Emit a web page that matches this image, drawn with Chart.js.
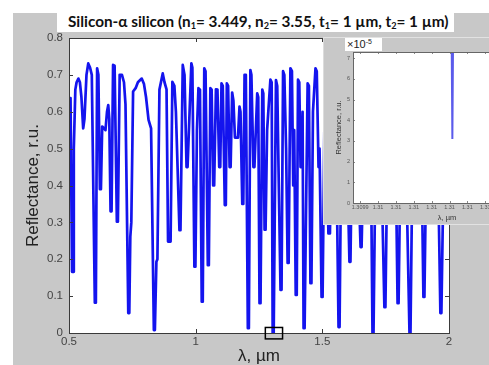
<!DOCTYPE html>
<html>
<head>
<meta charset="utf-8">
<script src="https://cdn.jsdelivr.net/npm/chart.js@4.4.0/dist/chart.umd.min.js"></script>
<style>
  html, body { margin: 0; padding: 0; background: #fff; width: 489px; height: 365px; overflow: hidden; }
  #fig { position: absolute; left: 13px; top: 13px; width: 476px; height: 352px; background: #c8c8c8; }
  #main { position: absolute; left: 13px; top: 13px; }
  #titleBox { position: absolute; left: 57px; top: 0; width: 397px; height: 32px; background: #fff; }
  #title { position: absolute; left: 11px; top: 12px; white-space: nowrap; font-family: Lato, "Open Sans", sans-serif;
           font-weight: bold; font-size: 15.3px; line-height: 18px; color: #111; }
  #title sub { font-size: 0.6em; vertical-align: -0.2em; line-height: 0; }
  #insetPanel { position: absolute; left: 323px; top: 37px; width: 240px; height: 188px; background: #c8c8c8;
                border-top: 1px solid #e2e2e2; border-bottom: 1px solid #e2e2e2; border-left: 1px solid #dcdcdc; box-sizing: border-box; }
  #inset { position: absolute; left: 323px; top: 37px; }
  #expo { position: absolute; left: 345px; top: 38px; width: 37px; height: 13px; background: #fff;
          font-family: "Liberation Sans", Arial, sans-serif; font-size: 11px; line-height: 13px; color: #222; padding-left: 2px; box-sizing: border-box; }
  #expo sup { font-size: 7px; vertical-align: 4px; line-height: 0; }
</style>
</head>
<body>
<div id="fig"></div>
<canvas id="main" width="476" height="352"></canvas>
<div id="titleBox"><div id="title">Silicon-α silicon (n<sub>1</sub>= 3.449, n<sub>2</sub>= 3.55, t<sub>1</sub>= 1 µm, t<sub>2</sub>= 1 µm)</div></div>
<div id="insetPanel"></div>
<canvas id="inset" width="240" height="188"></canvas>
<div id="expo">×10<sup>-5</sup></div>
<script>
// Kurve: Wellenlaenge (µm) und Reflexion (r.u.)
const wavelength = [
  0.500, 0.502, 0.506, 0.512, 0.516, 0.519, 0.525, 0.530, 0.537, 0.543,
  0.549, 0.556, 0.561, 0.569, 0.576, 0.583, 0.590, 0.602, 0.606, 0.611,
  0.616, 0.622, 0.626, 0.631, 0.644, 0.650, 0.655, 0.659, 0.664, 0.668,
  0.674, 0.680, 0.689, 0.693, 0.700, 0.709, 0.717, 0.723, 0.734, 0.738,
  0.742, 0.746, 0.753, 0.763, 0.772, 0.787, 0.796, 0.804, 0.814, 0.824,
  0.835, 0.839, 0.845, 0.849, 0.857, 0.870, 0.877, 0.885, 0.891, 0.901,
  0.908, 0.916, 0.922, 0.936, 0.940, 0.949, 0.956, 0.964, 0.968, 0.976,
  0.983, 0.987, 0.995, 0.999, 1.005, 1.011, 1.017, 1.024, 1.028, 1.034,
  1.039, 1.048, 1.052, 1.058, 1.063, 1.069, 1.073, 1.080, 1.086, 1.093,
  1.097, 1.102, 1.107, 1.115, 1.119, 1.123, 1.128, 1.134, 1.138, 1.144,
  1.149, 1.155, 1.167, 1.173, 1.177, 1.184, 1.188, 1.193, 1.198, 1.206,
  1.210, 1.216, 1.220, 1.228, 1.232, 1.243, 1.247, 1.252, 1.256, 1.263,
  1.267, 1.272, 1.276, 1.282, 1.295, 1.300, 1.304, 1.308, 1.317, 1.322,
  1.327, 1.335, 1.339, 1.345, 1.350, 1.357, 1.363, 1.367, 1.374, 1.380,
  1.385, 1.389, 1.395, 1.399, 1.404, 1.409, 1.414, 1.418, 1.422, 1.426,
  1.430, 1.442, 1.447, 1.453, 1.457, 1.463, 1.473, 1.478, 1.485, 1.489,
  1.497, 1.501, 1.509, 1.516, 1.524, 1.530, 1.538, 1.546, 1.552, 1.556,
  1.564, 1.568, 1.576, 1.586, 1.593, 1.597, 1.607, 1.611, 1.619, 1.633,
  1.651, 1.655, 1.666, 1.680, 1.688, 1.692, 1.698, 1.702, 1.712, 1.728,
  1.745, 1.749, 1.759, 1.775, 1.787, 1.791, 1.797, 1.801, 1.811, 1.826,
  1.844, 1.848, 1.858, 1.878, 1.889, 1.893, 1.899, 1.903, 1.913, 1.937,
  1.955, 1.959, 1.966, 1.970, 1.980, 1.992, 2.000
];
const reflectance = [
  0.45, 0.637, 0.637, 0.166, 0.166, 0.50, 0.66, 0.68, 0.69, 0.68,
  0.64, 0.555, 0.58, 0.70, 0.731, 0.72, 0.70, 0.082, 0.082, 0.718,
  0.70, 0.39, 0.39, 0.56, 0.55, 0.60, 0.618, 0.58, 0.33, 0.33,
  0.727, 0.725, 0.302, 0.302, 0.70, 0.70, 0.68, 0.62, 0.054, 0.054,
  0.261, 0.30, 0.655, 0.664, 0.68, 0.69, 0.675, 0.64, 0.578, 0.555,
  0.008, 0.008, 0.193, 0.20, 0.66, 0.704, 0.68, 0.661, 0.248, 0.248,
  0.681, 0.67, 0.60, 0.279, 0.279, 0.727, 0.70, 0.45, 0.45, 0.60,
  0.731, 0.72, 0.18, 0.18, 0.55, 0.664, 0.66, 0.085, 0.085, 0.718,
  0.71, 0.184, 0.184, 0.664, 0.66, 0.40, 0.40, 0.661, 0.66, 0.45,
  0.45, 0.677, 0.67, 0.347, 0.347, 0.677, 0.67, 0.45, 0.45, 0.652,
  0.63, 0.53, 0.53, 0.614, 0.60, 0.35, 0.35, 0.70, 0.70, 0.013,
  0.013, 0.713, 0.70, 0.45, 0.45, 0.65, 0.64, 0.081, 0.081, 0.66,
  0.65, 0.28, 0.28, 0.55, 0.687, 0.68, 0.0, 0.0, 0.686, 0.67,
  0.45, 0.117, 0.117, 0.71, 0.70, 0.50, 0.19, 0.19, 0.718, 0.71,
  0.40, 0.55, 0.103, 0.103, 0.687, 0.68, 0.45, 0.45, 0.60, 0.013,
  0.013, 0.677, 0.67, 0.135, 0.135, 0.60, 0.718, 0.71, 0.45, 0.50,
  0.098, 0.098, 0.62, 0.60, 0.27, 0.27, 0.60, 0.60, 0.40, 0.45,
  0.016, 0.016, 0.60, 0.62, 0.45, 0.50, 0.193, 0.193, 0.60, 0.62,
  0.233, 0.233, 0.60, 0.62, 0.40, 0.45, 0.0, 0.0, 0.60, 0.62,
  0.07, 0.07, 0.60, 0.62, 0.35, 0.40, 0.081, 0.081, 0.60, 0.62,
  0.0, 0.0, 0.60, 0.62, 0.35, 0.40, 0.098, 0.098, 0.60, 0.62,
  0.30, 0.35, 0.054, 0.054, 0.50, 0.55, 0.45
];
const xTicks = [0.5, 1, 1.5, 2];
const yTicks = [0, 0.1, 0.2, 0.3, 0.4, 0.5, 0.6, 0.7, 0.8];
// markiertes Fenster um 1.31 µm (in Datenkoordinaten)
const zoomWindow = { x0: 1.275, x1: 1.343, y0: -0.016, y1: 0.015 };

// Ausschnitt (Inset)
const insetWavelength = [1.310156, 1.310158, 1.310160];
const insetReflectance = [8.0e-5, 3.1e-5, 8.0e-5];
const insetXTicks = [1.3099, 1.30995, 1.3100, 1.31005, 1.3101, 1.31015, 1.3102, 1.31025, 1.3103, 1.31035, 1.3104];
const insetXLabels = ['1.3099', '1.31', '1.31', '1.31', '1.31', '1.31', '1.31', '1.31', '1.31', '1.31', '1.31'];
const insetYTicks = [0, 1e-5, 2e-5, 3e-5, 4e-5, 5e-5, 6e-5, 7e-5];

/**
 * MATLAB-artiger Rahmen: weisser Plotbereich, Box und nach innen zeigende Ticks
 */
const matlabFrame = {
  id: 'matlabFrame',
  beforeDatasetsDraw(chart) {
    const a = chart.chartArea;
    chart.ctx.save();
    chart.ctx.fillStyle = '#fff';
    chart.ctx.fillRect(a.left, a.top, a.right - a.left, a.bottom - a.top);
    chart.ctx.restore();
  },
  afterDatasetsDraw(chart, args, opts) {
    const { ctx, chartArea: a, scales: { x, y } } = chart;
    ctx.save();
    ctx.strokeStyle = opts.tickColor;
    ctx.lineWidth = 1;
    ctx.beginPath();
    x.ticks.forEach(t => {
      const px = Math.round(x.getPixelForValue(t.value)) + 0.5;
      ctx.moveTo(px, a.bottom); ctx.lineTo(px, a.bottom - opts.len);
      ctx.moveTo(px, a.top); ctx.lineTo(px, a.top + opts.len);
    });
    y.ticks.forEach(t => {
      const py = Math.round(y.getPixelForValue(t.value)) + 0.5;
      ctx.moveTo(a.left, py); ctx.lineTo(a.left + opts.len, py);
      ctx.moveTo(a.right, py); ctx.lineTo(a.right - opts.len, py);
    });
    ctx.stroke();
    ctx.strokeStyle = opts.color;
    ctx.strokeRect(Math.round(a.left) + 0.5, Math.round(a.top) + 0.5, Math.round(a.right - a.left), Math.round(a.bottom - a.top));
    if (opts.box) {
      const bx0 = x.getPixelForValue(opts.box.x0), bx1 = x.getPixelForValue(opts.box.x1);
      const by0 = y.getPixelForValue(opts.box.y0), by1 = y.getPixelForValue(opts.box.y1);
      ctx.strokeStyle = '#000';
      ctx.lineWidth = 1.5;
      ctx.strokeRect(bx0, by1, bx1 - bx0, by0 - by1);
    }
    ctx.restore();
  }
};

const axisFont = { family: '"Liberation Sans", Arial, sans-serif', size: 11.5 };

new Chart(document.getElementById('main'), {
  type: 'line',
  data: {
    datasets: [{
      data: wavelength.map((w, i) => ({ x: w, y: reflectance[i] })),
      borderColor: '#1414ee',
      borderWidth: 2.7,
      borderJoinStyle: 'round',
      pointRadius: 0,
      tension: 0,
      fill: false
    }]
  },
  options: {
    responsive: false,
    animation: false,
    devicePixelRatio: 1,
    layout: { padding: { left: 0, right: 40, top: 25, bottom: 0 } },
    plugins: {
      legend: { display: false },
      tooltip: { enabled: false },
      matlabFrame: { color: '#3a3a3a', tickColor: '#3a3a3a', len: 4, box: zoomWindow }
    },
    scales: {
      x: {
        type: 'linear', min: 0.5, max: 2,
        afterBuildTicks: s => { s.ticks = xTicks.map(v => ({ value: v })); },
        afterFit: s => { s.height = 32; },
        grid: { display: false, drawTicks: false },
        border: { display: false },
        ticks: { padding: 2, color: '#444', font: axisFont, maxRotation: 0, autoSkip: false, callback: v => String(v) },
        title: { display: true, text: 'λ, µm', color: '#222',
                 font: { family: '"Liberation Sans", Arial, sans-serif', size: 17, lineHeight: 1 }, padding: 0 }
      },
      y: {
        min: 0, max: 0.8,
        afterBuildTicks: s => { s.ticks = yTicks.map(v => ({ value: v })); },
        afterFit: s => { s.width = 56; },
        grid: { display: false, drawTicks: false },
        border: { display: false },
        ticks: { padding: 6, color: '#444', font: axisFont, callback: v => String(v) },
        title: { display: true, text: 'Reflectance, r.u.', color: '#222',
                 font: { family: '"Liberation Sans", Arial, sans-serif', size: 17, lineHeight: 1.2 }, padding: { top: 10, bottom: 0 } }
      }
    }
  },
  plugins: [matlabFrame]
});

const insetFont = { family: '"Liberation Sans", Arial, sans-serif', size: 5.5 };

new Chart(document.getElementById('inset'), {
  type: 'line',
  data: {
    datasets: [{
      data: insetWavelength.map((w, i) => ({ x: w, y: insetReflectance[i] })),
      borderColor: 'rgba(50, 50, 230, 0.8)',
      borderWidth: 2,
      pointRadius: 0,
      tension: 0,
      fill: false
    }]
  },
  options: {
    responsive: false,
    animation: false,
    devicePixelRatio: 1,
    layout: { padding: { left: 0, right: 22, top: 15, bottom: 0 } },
    plugins: {
      legend: { display: false },
      tooltip: { enabled: false },
      matlabFrame: { color: '#666', tickColor: '#888', len: 2 }
    },
    scales: {
      x: {
        type: 'linear', min: 1.30988, max: 1.310406,
        afterBuildTicks: s => { s.ticks = insetXTicks.map(v => ({ value: v })); },
        afterFit: s => { s.height = 22; },
        grid: { display: false, drawTicks: false },
        border: { display: false },
        ticks: { padding: 1, color: '#555', font: insetFont, maxRotation: 0, autoSkip: false,
                 callback: (v, i) => insetXLabels[i] },
        title: { display: true, text: 'λ, µm', color: '#333',
                 font: { family: '"Liberation Sans", Arial, sans-serif', size: 7.5, lineHeight: 1.2 }, padding: { top: 0, bottom: 2.5 } }
      },
      y: {
        min: 0, max: 7.3e-5,
        afterBuildTicks: s => { s.ticks = insetYTicks.map(v => ({ value: v })); },
        afterFit: s => { s.width = 30; },
        grid: { display: false, drawTicks: false },
        border: { display: false },
        ticks: { padding: 3, color: '#555', font: insetFont, callback: v => String(Math.round(v / 1e-5)) },
        title: { display: true, text: 'Reflectance, r.u.', color: '#333',
                 font: { family: '"Liberation Sans", Arial, sans-serif', size: 7.5, lineHeight: 1.2 }, padding: { top: 11.5, bottom: 0 } }
      }
    }
  },
  plugins: [matlabFrame]
});
</script>
</body>
</html>
